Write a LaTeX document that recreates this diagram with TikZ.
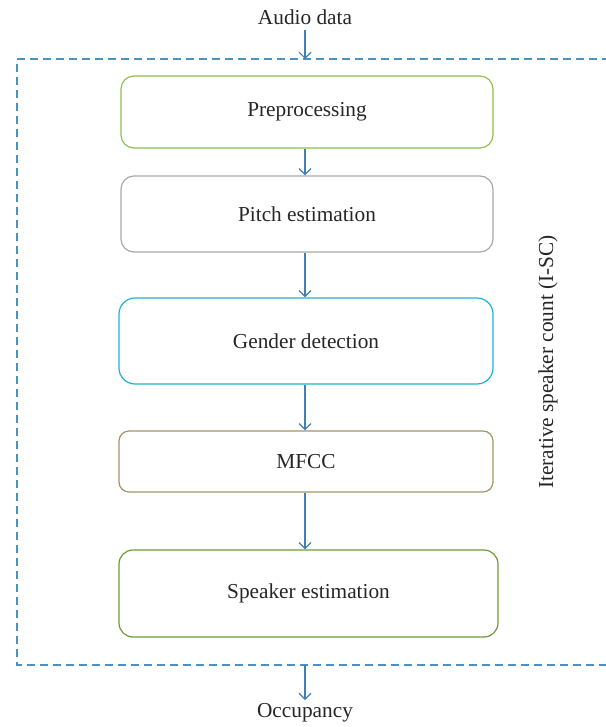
\documentclass[tikz,border=0pt]{standalone}
\usepackage{fontspec}
\setmainfont{Liberation Serif}
\usetikzlibrary{arrows.meta}
\definecolor{arrblue}{HTML}{3F7FB5}
\definecolor{dashblue}{HTML}{4A92C4}
\definecolor{cgreen}{HTML}{8CC152}
\definecolor{cgray}{HTML}{A8A8A8}
\definecolor{ccyan}{HTML}{1FB3D3}
\definecolor{colive}{HTML}{A39366}
\definecolor{cdgreen}{HTML}{6C9A35}
\begin{document}
\begin{tikzpicture}[x=1pt,y=-1pt,
  box/.style={draw, rounded corners=13pt, line width=1.2pt, inner sep=0pt},
  lbl/.style={font=\fontsize{21.3}{25}\selectfont, text=black!85},
  arr/.style={draw=arrblue, line width=1.2pt, -{Straight Barb[length=6pt,width=12pt]}}]
\useasboundingbox (0,0) rectangle (605,727);
\draw[dashblue, line width=1.2pt, dash pattern=on 8pt off 5pt] (610,59) -- (17,59) -- (17,665) -- (610,665);
\node[lbl] (audio) at (305,17) {Audio data};
\coordinate (top) at (305,59);
\node[box, draw=cgreen, minimum width=372pt, minimum height=72pt] (pre) at (307,112) {};
\node[lbl] at (pre) {Preprocessing};
\node[box, draw=cgray, minimum width=372pt, minimum height=76pt] (pitch) at (307,214) {};
\node[lbl] at (pitch) {Pitch estimation};
\node[box, draw=ccyan, rounded corners=16pt, minimum width=374pt, minimum height=86pt] (gender) at (306,341) {};
\node[lbl] at (gender) {Gender detection};
\node[box, draw=colive, rounded corners=10pt, minimum width=374pt, minimum height=61pt] (mfcc) at (306,461.5) {};
\node[lbl] at (mfcc) {MFCC};
\node[box, draw=cdgreen, rounded corners=14pt, minimum width=379pt, minimum height=87pt] (spk) at (308.5,593.5) {};
\node[lbl] at (spk) {Speaker estimation};
\node[lbl, rotate=90] (isc) at (548,362) {Iterative speaker count (I-SC)};
\coordinate (bot) at (305,665);
\node[lbl] (occ) at (305,713) {Occupancy};
\draw[arr] (audio.south -| top) ++(0,2) -- (top);
\draw[arr] (pre.south -| top) -- (pitch.north -| top);
\draw[arr] (pitch.south -| top) -- (gender.north -| top);
\draw[arr] (gender.south -| top) -- (mfcc.north -| top);
\draw[arr] (mfcc.south -| top) -- (spk.north -| top);
\draw[arr] (bot) -- (occ.north -| bot);
\end{tikzpicture}
\end{document}
